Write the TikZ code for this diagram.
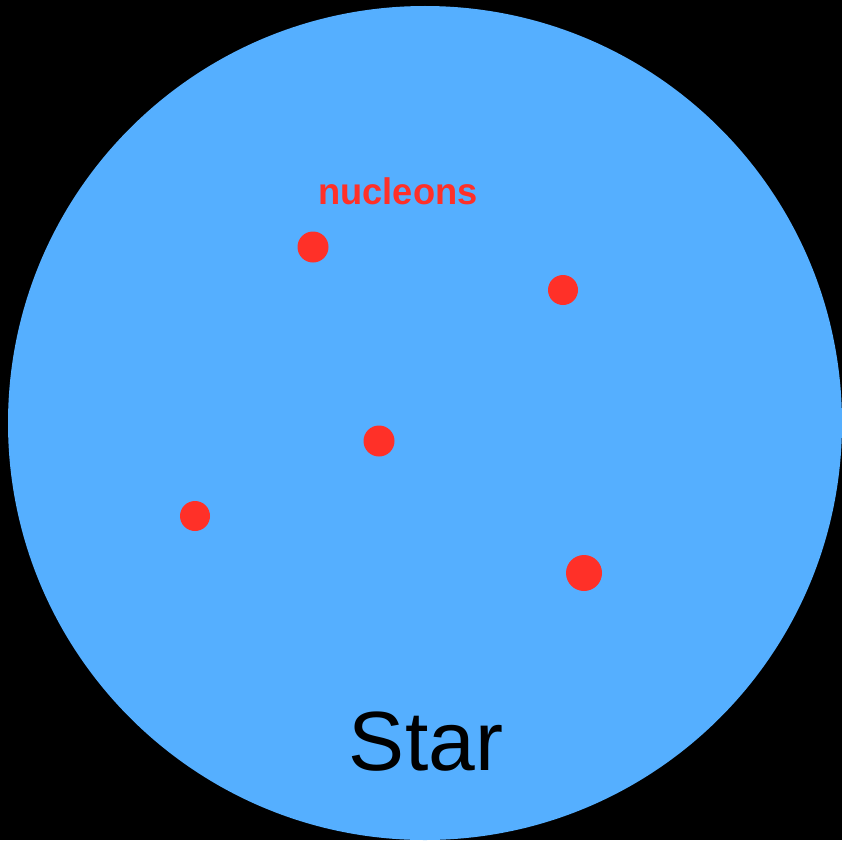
\documentclass[tikz,border=0pt]{standalone}
\usepackage{fontspec}
\setmainfont{Liberation Sans}
\definecolor{starblue}{RGB}{85,175,255}
\definecolor{nucred}{RGB}{255,48,40}
\begin{document}
\begin{tikzpicture}[x=1pt,y=-1pt,
  nucleon/.style={circle,fill=nucred,inner sep=0pt,minimum size=#1},
  nucleon/.default=31pt]
\fill[black] (0,0) rectangle (842,840);
\useasboundingbox (0,0) rectangle (842,840);
\begin{scope}
\clip (0,0) rectangle (842,840);
\fill[starblue] (425,423) circle[radius=417];
\end{scope}
\node[nucleon] (n1) at (313,247) {};
\node[nucleon=30pt] (n2) at (563,290) {};
\node[nucleon] (n3) at (379,441) {};
\node[nucleon=30pt] (n4) at (195,516) {};
\node[nucleon=36pt] (n5) at (584,573) {};
\node[text=nucred,font=\fontsize{37}{40}\selectfont\bfseries,inner sep=0pt,xscale=0.98] (lbl) at (398,191) {nucleons};
\node[text=black,font=\fontsize{84}{90}\selectfont,inner sep=0pt] (star) at (426,742) {Star};
\end{tikzpicture}
\end{document}
